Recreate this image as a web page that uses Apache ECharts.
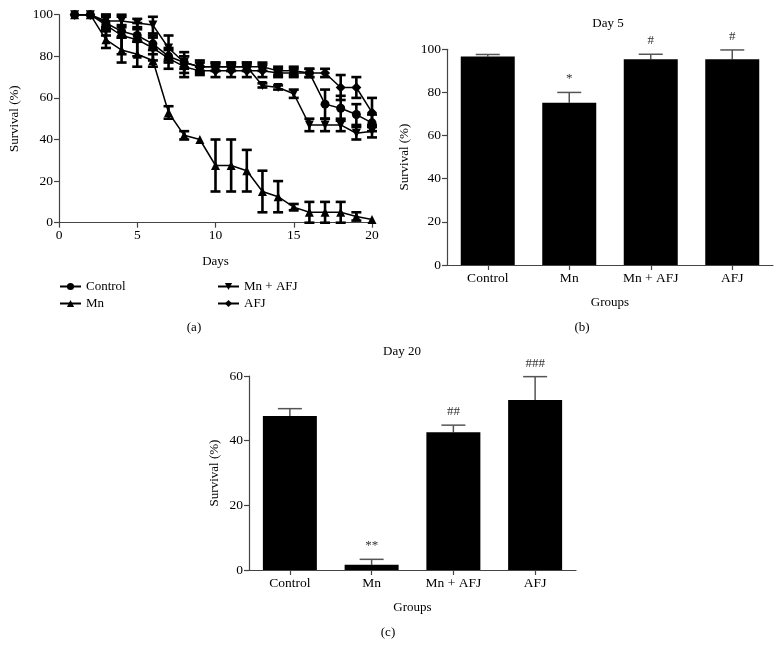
<!DOCTYPE html>
<html><head><meta charset="utf-8">
<script src="https://cdn.jsdelivr.net/npm/echarts@6/dist/echarts.min.js"></script>
<style>html,body{margin:0;padding:0;background:#fff}#c{width:781px;height:659px}</style>
</head><body><div id="c"></div>
<script>
// ---- Panel (a): survival over days ----
const days = [1,2,3,4,5,6,7,8,9,10,11,12,13,14,15,16,17,18,19,20];
const controlMean = [100,100,96,92,90,86,80,77,75,75,75,75,75,73,73,72,57,55,52,48];
const controlErr  = [0,0,3,3,3,3,3,3,2,2,2,2,2,2,2,2,7,6,5,4];
const mnMean = [100,100,88,83,81,78,53,42,40,27.5,27.5,25,15,12.5,7.5,5,5,5,3,1.5];
const mnErr  = [0,0,4,6,6,3,3,2,0,12.5,12.5,10,10,7.5,1.5,5,5,5,2,0];
const mnAfjMean = [100,100,97,97,96,95,84,77,75,75,75,75,66,65,62,47,47,47,43,44];
const mnAfjErr  = [0,0,3,3,2,4,6,5,3,2,2,2,1,1,2,3,3,3,3,3];
const afjMean = [100,100,95,90,88,84,79,75,73,73,73,73,73,72,72,72,72,65,65,53];
const afjErr  = [0,0,5,9,8,6,5,5,2,3,3,3,3,2,2,2,2,6,5,7];
const xTicksA = [0,5,10,15,20];
const yTicksA = [0,20,40,60,80,100];

// ---- Panels (b) and (c): group bars ----
const groups = ['Control','Mn','Mn + AFJ','AFJ'];
const day5Mean = [96.7,75.2,95.4,95.4];
const day5Err  = [0.9,4.8,2.3,4.3];
const day5Sig  = ['','*','#','#'];
const day20Mean = [47.6,1.6,42.6,52.6];
const day20Err  = [2.3,1.7,2.2,7.2];
const day20Sig  = ['','**','##','###'];

const FONT = 'Liberation Serif';
const AX = '#444';
const chart = echarts.init(document.getElementById('c'), null, {renderer:'canvas'});

function pairs(m, e){ return days.map((d,i)=>[d, m[i], e[i]]); }
function errLine(params, api){
  const x = api.value(0), y = api.value(1), e = api.value(2);
  if(!e) return null;
  const t = api.coord([x, y+e]), b = api.coord([x, y-e]);
  const h = 5, st = {stroke:'#000', lineWidth:2.6};
  return {type:'group', children:[
    {type:'line', shape:{x1:t[0],y1:t[1],x2:b[0],y2:b[1]}, style:st},
    {type:'line', shape:{x1:t[0]-h,y1:t[1],x2:t[0]+h,y2:t[1]}, style:st},
    {type:'line', shape:{x1:b[0]-h,y1:b[1],x2:b[0]+h,y2:b[1]}, style:st}
  ]};
}
function barErr(sig){
  return function(params, api){
    const i = api.value(0), m = api.value(1), e = api.value(2);
    const base = api.coord([i, m]), t = api.coord([i, m+e]);
    const h = 12, st = {stroke:'#555', lineWidth:1.5};
    const ch = [
      {type:'line', shape:{x1:base[0],y1:base[1],x2:t[0],y2:t[1]}, style:st},
      {type:'line', shape:{x1:t[0]-h,y1:t[1],x2:t[0]+h,y2:t[1]}, style:st}
    ];
    if(sig[params.dataIndex]) ch.push({type:'text', style:{text:sig[params.dataIndex], x:t[0], y:t[1]-7,
      textAlign:'center', textVerticalAlign:'bottom', fontFamily:FONT, fontSize:13, fill:'#333'}});
    return {type:'group', children:ch};
  };
}
const axisCommon = {
  axisLine:{show:true, lineStyle:{color:AX, width:1.2}},
  axisTick:{show:true, length:5, lineStyle:{color:AX, width:1.2}},
  axisLabel:{color:'#000', fontSize:13.5, fontFamily:FONT, margin:6},
  splitLine:{show:false},
  nameTextStyle:{color:'#000', fontSize:13, fontFamily:FONT}
};
const triDown = 'path://M0,0 L10,0 L5,9 Z';
const lineCommon = {type:'line', xAxisIndex:0, yAxisIndex:0, symbolSize:9, color:'#000',
  lineStyle:{color:'#000', width:1.5}, itemStyle:{color:'#000'}, z:3, animation:false};

const option = {
  animation:false,
  textStyle:{fontFamily:FONT},
  grid:[
    {left:59, top:14.7, width:313, height:208},
    {left:447, top:49.3, width:326, height:215.7},
    {left:249, top:376, width:327, height:194}
  ],
  xAxis:[
    Object.assign({}, axisCommon, {gridIndex:0, type:'value', min:0, max:20, interval:5,
      name:'Days', nameLocation:'middle', nameGap:32}),
    Object.assign({}, axisCommon, {gridIndex:1, type:'category', data:groups,
      axisTick:{show:true, alignWithLabel:true, length:5, lineStyle:{color:AX, width:1.2}},
      name:'Groups', nameLocation:'middle', nameGap:31}),
    Object.assign({}, axisCommon, {gridIndex:2, type:'category', data:groups,
      axisTick:{show:true, alignWithLabel:true, length:5, lineStyle:{color:AX, width:1.2}},
      name:'Groups', nameLocation:'middle', nameGap:31})
  ],
  yAxis:[
    Object.assign({}, axisCommon, {gridIndex:0, type:'value', min:0, max:100, interval:20,
      name:'Survival (%)', nameLocation:'middle', nameGap:38}),
    Object.assign({}, axisCommon, {gridIndex:1, type:'value', min:0, max:100, interval:20,
      name:'Survival (%)', nameLocation:'middle', nameGap:36}),
    Object.assign({}, axisCommon, {gridIndex:2, type:'value', min:0, max:60, interval:20,
      name:'Survival (%)', nameLocation:'middle', nameGap:28})
  ],
  legend:[
    {data:['Control','Mn'], orient:'vertical', left:54, top:275, itemWidth:21, itemHeight:9, itemGap:4,
      textStyle:{color:'#000', fontSize:13, fontFamily:FONT}},
    {data:['Mn + AFJ','AFJ'], orient:'vertical', left:212, top:275, itemWidth:21, itemHeight:9, itemGap:4,
      textStyle:{color:'#000', fontSize:13, fontFamily:FONT}}
  ],
  graphic:[
    {type:'text', x:194, y:328, style:{text:'(a)', textAlign:'center', textVerticalAlign:'middle', fontFamily:FONT, fontSize:13, fill:'#000'}},
    {type:'text', x:582, y:328, style:{text:'(b)', textAlign:'center', textVerticalAlign:'middle', fontFamily:FONT, fontSize:13, fill:'#000'}},
    {type:'text', x:388, y:633, style:{text:'(c)', textAlign:'center', textVerticalAlign:'middle', fontFamily:FONT, fontSize:13, fill:'#000'}},
    {type:'text', x:608, y:24, style:{text:'Day 5', textAlign:'center', textVerticalAlign:'middle', fontFamily:FONT, fontSize:13, fill:'#000'}},
    {type:'text', x:402, y:352, style:{text:'Day 20', textAlign:'center', textVerticalAlign:'middle', fontFamily:FONT, fontSize:13, fill:'#000'}}
  ],
  series:[
    Object.assign({}, lineCommon, {name:'Control', symbol:'circle', data:pairs(controlMean, controlErr)}),
    Object.assign({}, lineCommon, {name:'Mn', symbol:'triangle', data:pairs(mnMean, mnErr)}),
    Object.assign({}, lineCommon, {name:'Mn + AFJ', symbol:triDown, data:pairs(mnAfjMean, mnAfjErr)}),
    Object.assign({}, lineCommon, {name:'AFJ', symbol:'diamond', symbolSize:10, data:pairs(afjMean, afjErr)}),
    {type:'custom', xAxisIndex:0, yAxisIndex:0, renderItem:errLine, data:pairs(controlMean, controlErr), z:2},
    {type:'custom', xAxisIndex:0, yAxisIndex:0, renderItem:errLine, data:pairs(mnMean, mnErr), z:2},
    {type:'custom', xAxisIndex:0, yAxisIndex:0, renderItem:errLine, data:pairs(mnAfjMean, mnAfjErr), z:2},
    {type:'custom', xAxisIndex:0, yAxisIndex:0, renderItem:errLine, data:pairs(afjMean, afjErr), z:2},
    {type:'bar', xAxisIndex:1, yAxisIndex:1, data:day5Mean, barWidth:54, itemStyle:{color:'#000'}, z:3},
    {type:'custom', xAxisIndex:1, yAxisIndex:1, renderItem:barErr(day5Sig), z:2,
      data:groups.map((g,i)=>[i, day5Mean[i], day5Err[i]])},
    {type:'bar', xAxisIndex:2, yAxisIndex:2, data:day20Mean, barWidth:54, itemStyle:{color:'#000'}, z:3},
    {type:'custom', xAxisIndex:2, yAxisIndex:2, renderItem:barErr(day20Sig), z:2,
      data:groups.map((g,i)=>[i, day20Mean[i], day20Err[i]])}
  ]
};
chart.setOption(option);
</script></body></html>
